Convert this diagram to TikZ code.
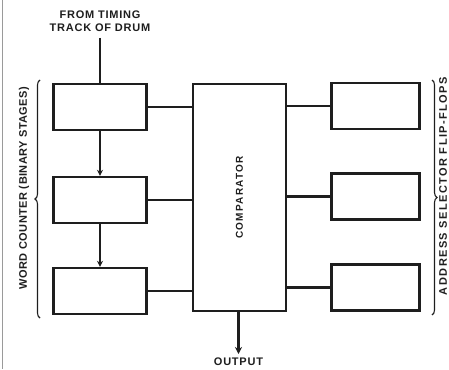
\documentclass[tikz,border=0pt]{standalone}
\usepackage{fontspec}
\setmainfont{Liberation Sans}
\usetikzlibrary{arrows.meta,positioning,calc,decorations.pathreplacing}
\definecolor{ink}{HTML}{1E1E1E}
\definecolor{edge}{HTML}{9A9A9A}

\begin{document}
\begin{tikzpicture}[
    x=1pt, y=-1pt,
    every node/.style={font=\fontsize{11}{13}\selectfont\bfseries\addfontfeature{LetterSpace=7}, text=ink},
    stage/.style={rectangle, draw=ink, line width=2.4pt, minimum width=93pt,
        minimum height=46pt},
    selbox/.style={rectangle, draw=ink, line width=2.4pt, minimum width=88pt,
        minimum height=46pt},
    wire/.style={draw=ink, line width=2.2pt},
    brace/.style={draw=ink, line width=1.1pt, decorate,
        decoration={brace, amplitude=5pt}},
]
\useasboundingbox (0,0) rectangle (449,369);

% page edge of the scan
\draw[edge, line width=1pt] (2,0) -- (2,369);

% Word counter stages
\node[stage] (cnt1) at (100,107) {};
\node[stage] (cnt2) at (100,200) {};
\node[stage] (cnt3) at (100,291) {};

% Comparator
\node[rectangle, draw=ink, line width=2.4pt, minimum width=93pt,
    minimum height=227pt] (comp) at (239.5,197.5) {};
\node[rotate=90, font=\fontsize{10}{11}\selectfont\bfseries\addfontfeature{LetterSpace=12}]
    (complbl) at (comp.center) {COMPARATOR};

% Address selector flip-flops
\node[selbox] (sel1) at (375.5,106) {};
\node[selbox] (sel2) at (375.5,196.5) {};
\node[selbox] (sel3) at (375.5,287.5) {};

% Timing input
\node[align=center] (drumtxt) at (100,21) {FROM TIMING\\TRACK OF DRUM};
\coordinate (drum) at (100,38);
\draw[wire] (drum) -- (cnt1.north);

% Counter chain
\draw[wire, -{Stealth[length=6pt,width=6pt]}] (cnt1.south) -- (cnt2.north);
\draw[wire, -{Stealth[length=6pt,width=6pt]}] (cnt2.south) -- (cnt3.north);

% Into comparator
\foreach \n in {cnt1,cnt2,cnt3}
    \draw[wire] (\n.east) -- (\n.east -| comp.west);
\foreach \n in {sel1,sel2,sel3}
    \draw[wire] (\n.west) -- (\n.west -| comp.east);

% Output
\coordinate (out) at (238.5,354);
\draw[wire, -{Stealth[length=7pt,width=7pt]}] (comp.south -| out) -- (out);
\node (outtxt) at (238.5,362) {OUTPUT};

% Braces and group labels
\coordinate (lbot) at (40,318);
\coordinate (ltop) at (40,80);
\draw[brace] (lbot) -- (ltop);
\node[rotate=90, font=\fontsize{11}{13}\selectfont\bfseries\addfontfeature{LetterSpace=4}]
    (cntlbl) at (24,188) {WORD COUNTER (BINARY STAGES)};

\coordinate (rtop) at (432,80);
\coordinate (rbot) at (432,315);
\draw[brace] (rtop) -- (rbot);
\node[rotate=90, font=\fontsize{11}{13}\selectfont\bfseries\addfontfeature{LetterSpace=13}]
    (sellbl) at (443,186) {ADDRESS SELECTOR FLIP-FLOPS};

\end{tikzpicture}
\end{document}
